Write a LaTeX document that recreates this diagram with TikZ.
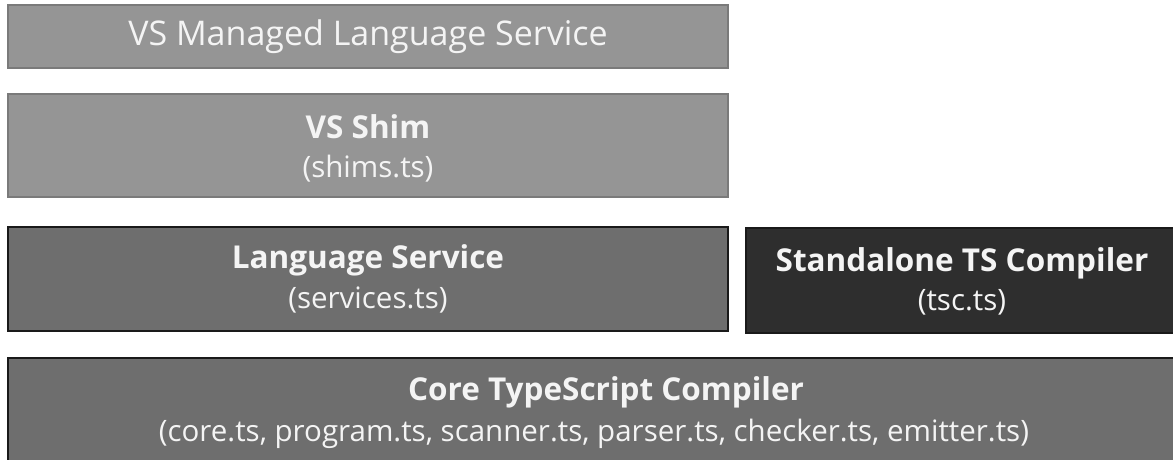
\documentclass[tikz,border=0pt]{standalone}
\usepackage{fontspec}
\setmainfont{Open Sans}
\definecolor{lightbox}{HTML}{959595}
\definecolor{lightedge}{HTML}{7A7A7A}
\definecolor{midbox}{HTML}{6E6E6E}
\definecolor{darkbox}{HTML}{2E2E2E}
\definecolor{darkedge}{HTML}{1A1A1A}
\definecolor{txt}{HTML}{F4F4F4}
\begin{document}
\begin{tikzpicture}[x=1pt,y=-1pt,
  lbl/.style={text=txt, inner sep=0pt},
  head/.style={lbl, font=\fontsize{34}{40}\selectfont},
  bhead/.style={lbl, font=\bfseries\fontsize{31.5}{38}\selectfont},
  sub/.style={lbl, font=\fontsize{29.5}{36}\selectfont}]
\useasboundingbox (0,0) rectangle (1173,459);
\fill[lightbox, draw=lightedge, line width=1.5pt] (8,5) rectangle (728,68);
\node[head] (vsm) at (368,37) {VS Managed Language Service};

\fill[lightbox, draw=lightedge, line width=1.5pt] (8,94) rectangle (728,197);
\node[bhead] (shim) at (368,127) {VS Shim};
\node[sub] (shimf) at (368,169) {(shims.ts)};

\fill[midbox, draw=darkedge, line width=1.5pt] (8,227) rectangle (728,331);
\node[bhead] (ls) at (368,260) {Language Service};
\node[sub] (lsf) at (368,300) {(services.ts)};

\fill[darkbox, draw=darkedge, line width=1.5pt] (746,228) rectangle (1175,333);
\node[bhead] (tsc) at (962,263) {Standalone TS Compiler};
\node[sub] (tscf) at (962,302) {(tsc.ts)};

\fill[midbox, draw=darkedge, line width=1.5pt] (8,358) rectangle (1175,462);
\node[bhead] (core) at (606,392) {Core TypeScript Compiler};
\node[sub] (coref) at (594,434) {(core.ts, program.ts, scanner.ts, parser.ts, checker.ts, emitter.ts)};
\end{tikzpicture}
\end{document}
